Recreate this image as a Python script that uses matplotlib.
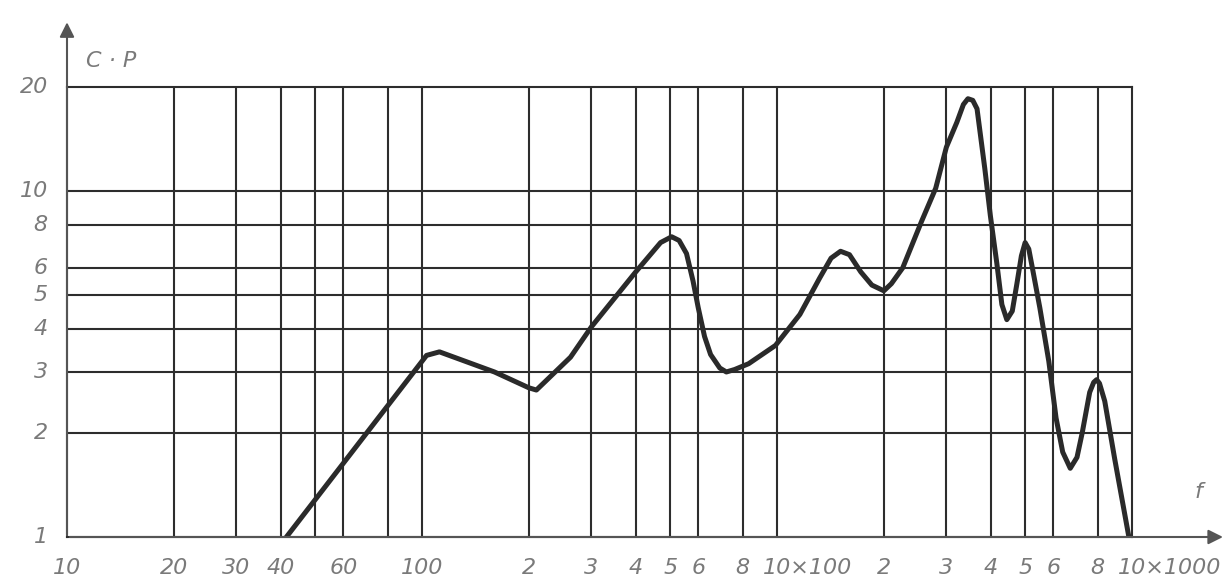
import matplotlib
matplotlib.use("Agg")
import matplotlib.pyplot as plt
import matplotlib.transforms as mtransforms

# curve points (frequency, value)
freq = [41.5, 103, 112, 160, 200, 210, 262, 300, 400, 470, 505, 530, 556, 580,
        600, 625, 650, 690, 720, 760, 832, 990, 1160, 1318, 1420, 1510, 1600,
        1722, 1850, 2000, 2100, 2260, 2557, 2800, 3000, 3210, 3350, 3450, 3560,
        3660, 3850, 3990, 4160, 4300, 4440, 4600, 4740, 4880, 5000, 5120, 5240,
        5500, 5830, 6110, 6380, 6700, 7000, 7240, 7600, 7800, 7950, 8100, 8380,
        8940, 9800]
cp = [1.0, 3.35, 3.43, 3.0, 2.7, 2.66, 3.31, 4.05, 5.84, 7.1, 7.38, 7.2, 6.6,
      5.5, 4.6, 3.8, 3.37, 3.08, 3.0, 3.05, 3.17, 3.58, 4.4, 5.6, 6.4, 6.7,
      6.55, 5.84, 5.35, 5.15, 5.4, 6.0, 8.2, 10.2, 13.4, 15.8, 17.8, 18.5,
      18.3, 17.3, 11.6, 8.5, 6.2, 4.7, 4.25, 4.5, 5.4, 6.5, 7.1, 6.8, 6.0,
      4.6, 3.22, 2.21, 1.76, 1.58, 1.7, 2.0, 2.62, 2.8, 2.85, 2.78, 2.47,
      1.68, 1.0]

x_grid = [20, 30, 40, 50, 60, 80, 100, 200, 300, 400, 500, 600, 800, 1000,
          2000, 3000, 4000, 5000, 6000, 8000]
x_labels = ["20", "30", "40", "", "60", "", "100", "2", "3", "4", "5", "6", "8",
            "10×100", "2", "3", "4", "5", "6", "8"]
y_grid = [2, 3, 4, 5, 6, 8, 10]
y_labels = ["2", "3", "4", "5", "6", "8", "10"]

ink = "#2d2d2d"
pencil = "#7a7a7a"
lab_font = dict(family=["Liberation Sans Narrow", "DejaVu Sans"],
                style="italic", color=pencil, fontsize=16)

fig = plt.figure(figsize=(12.31, 5.88), dpi=100)
ax = fig.add_axes([67 / 1231, 1 - 537 / 588, 1065 / 1231, 450 / 588])
ax.set_xscale("log")
ax.set_yscale("log")
ax.set_xlim(10, 10000)
ax.set_ylim(1, 20)

for v in x_grid:
    ax.axvline(v, color=ink, lw=1.5, zorder=1)
for v in y_grid:
    ax.axhline(v, color=ink, lw=1.5, zorder=1)

for side in ["top", "right", "bottom"]:
    ax.spines[side].set_color(ink)
    ax.spines[side].set_linewidth(1.5)
ax.spines["left"].set_color("#555555")
ax.spines["left"].set_linewidth(1.5)

ax.plot(freq, cp, color="#2a2a2a", lw=3.6, solid_capstyle="round",
        solid_joinstyle="round", zorder=3)

ax.xaxis.set_minor_locator(matplotlib.ticker.NullLocator())
ax.yaxis.set_minor_locator(matplotlib.ticker.NullLocator())
ax.tick_params(length=0)
ax.set_xticks([])
ax.set_yticks([])

# x labels under the gridlines
xtrans = mtransforms.blended_transform_factory(ax.transData, ax.transAxes)
ax.text(10, -0.07, "10", transform=xtrans, ha="center", va="center", **lab_font)
for v, s in zip(x_grid, x_labels):
    if not s:
        continue
    if "×" in s:
        ax.text(v * 0.915, -0.07, s, transform=xtrans, ha="left", va="center",
                **lab_font)
    else:
        ax.text(v, -0.07, s, transform=xtrans, ha="center", va="center",
                **lab_font)
ax.text(10000 * 0.915, -0.07, "10×1000", transform=xtrans, ha="left",
        va="center", **lab_font)

# y labels to the left of the axis
ytrans = mtransforms.blended_transform_factory(ax.transAxes, ax.transData)
for v, s in zip([1] + y_grid + [20], ["1"] + y_labels + ["20"]):
    ax.text(-0.018, v, s, transform=ytrans, ha="right", va="center",
            **lab_font)

# axis arrows
ax.annotate("", xy=(1.088, 0), xytext=(0, 0), xycoords="axes fraction",
            arrowprops=dict(arrowstyle="-|>", color="#555555", lw=1.5,
                            mutation_scale=22), annotation_clip=False)
ax.annotate("", xy=(0, 1.15), xytext=(0, 0), xycoords="axes fraction",
            arrowprops=dict(arrowstyle="-|>", color="#555555", lw=1.5,
                            mutation_scale=22), annotation_clip=False)

ax.text(0.018, 1.058, "C · P", transform=ax.transAxes, ha="left",
        va="center", **lab_font)
ax.text(1.062, 0.1, "f", transform=ax.transAxes, ha="center", va="center",
        **lab_font)

fig.savefig("out.png", dpi=100, facecolor="white")
